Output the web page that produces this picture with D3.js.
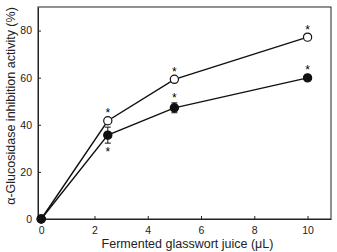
<!DOCTYPE html>
<html>
<head>
<meta charset="utf-8">
<script src="https://cdn.jsdelivr.net/npm/d3@7"></script>
<style>
  body { margin: 0; background: #fff; }
  svg { display: block; }
  text { font-family: "Liberation Sans", Arial, sans-serif; }
</style>
</head>
<body>
<div id="chart"></div>
<script>
// valeurs
var doses = [0, 2.5, 5, 10];
var openVals = [0, 41.7, 59.3, 77.2];
var openErr = [0, 1.0, 1.0, 1.0];
var filledVals = [0, 35.6, 47.2, 59.9];
var filledErr = [0, 3.4, 2.1, 1.0];
// étoiles : 1 au-dessus, -1 en dessous, 0 rien
var openStars = [0, 1, 1, 1];
var filledStars = [0, -1, 1, 1];
var xTicks = [0, 2, 4, 6, 8, 10];
var yTicks = [0, 20, 40, 60, 80];

var width = 337, height = 252;
var margin = {top: 7, right: 6, bottom: 33, left: 38};
var w = width - margin.left - margin.right;
var h = height - margin.top - margin.bottom;

var svg = d3.select("#chart").append("svg")
    .attr("width", width)
    .attr("height", height)
  .append("g")
    .attr("transform", "translate(" + margin.left + "," + margin.top + ")");

var x = d3.scaleLinear().domain([-0.12, 10.88]).range([0, w]);
var y = d3.scaleLinear().domain([0, 90]).range([h, 0]);

// cadre
svg.append("rect")
    .attr("width", w).attr("height", h)
    .attr("fill", "none").attr("stroke", "#222").attr("stroke-width", 1);

var xAxis = svg.append("g")
    .attr("transform", "translate(0," + h + ")")
    .call(d3.axisBottom(x).tickValues(xTicks).tickSizeInner(-3).tickSizeOuter(0).tickPadding(8));
var yAxis = svg.append("g")
    .call(d3.axisLeft(y).tickValues(yTicks).tickSizeInner(-3).tickSizeOuter(0).tickPadding(6));

[xAxis, yAxis].forEach(function(a) {
    a.select(".domain").attr("stroke", "#222");
    a.selectAll("line").attr("stroke", "#222");
    a.selectAll("text").attr("font-size", 10.5).attr("fill", "#222")
        .attr("font-family", "Liberation Sans, Arial, sans-serif");
});

svg.append("text")
    .attr("x", w / 2 + 3).attr("y", h + 29)
    .attr("text-anchor", "middle").attr("font-size", 12.5).attr("fill", "#222")
    .text("Fermented glasswort  juice (\u03bcL)");

svg.append("text")
    .attr("transform", "translate(" + (-23) + "," + (h / 2 - 7) + ") rotate(-90)")
    .attr("text-anchor", "middle").attr("font-size", 12.5).attr("fill", "#222")
    .text("\u03b1-Glucosidase inhibition activity (%)");

var line = d3.line()
    .x(function(d) { return x(d.dose); })
    .y(function(d) { return y(d.v); });

function series(vals, errs, stars, fill) {
    var data = doses.map(function(d, i) {
        return {dose: d, v: vals[i], e: errs[i], s: stars[i]};
    });
    svg.append("path").datum(data)
        .attr("d", line).attr("fill", "none")
        .attr("stroke", "#111").attr("stroke-width", 1.4);

    var eb = svg.append("g").selectAll("g").data(data.filter(function(d) { return d.e > 1.5; }))
        .enter().append("g");
    eb.append("line")
        .attr("x1", function(d) { return x(d.dose); }).attr("x2", function(d) { return x(d.dose); })
        .attr("y1", function(d) { return y(d.v - d.e); }).attr("y2", function(d) { return y(d.v + d.e); })
        .attr("stroke", "#111").attr("stroke-width", 1);
    [-1, 1].forEach(function(sgn) {
        eb.append("line")
            .attr("x1", function(d) { return x(d.dose) - 3; }).attr("x2", function(d) { return x(d.dose) + 3; })
            .attr("y1", function(d) { return y(d.v + sgn * d.e); }).attr("y2", function(d) { return y(d.v + sgn * d.e); })
            .attr("stroke", "#111").attr("stroke-width", 1);
    });

    svg.append("g").selectAll("circle").data(data)
        .enter().append("circle")
        .attr("cx", function(d) { return x(d.dose); })
        .attr("cy", function(d) { return y(d.v); })
        .attr("r", 4.1)
        .attr("fill", fill).attr("stroke", "#111").attr("stroke-width", 1.2);

    svg.append("g").selectAll("text").data(data.filter(function(d) { return d.s !== 0; }))
        .enter().append("text")
        .attr("x", function(d) { return x(d.dose); })
        .attr("y", function(d) {
            if (d.s > 0) return Math.min(y(d.v + d.e) - 1, y(d.v) - 3.5);
            return y(d.v - d.e) + 13;
        })
        .attr("text-anchor", "middle").attr("font-size", 12).attr("fill", "#000")
        .text("*");
}

series(openVals, openErr, openStars, "#fff");
series(filledVals, filledErr, filledStars, "#111");
</script>
</body>
</html>
